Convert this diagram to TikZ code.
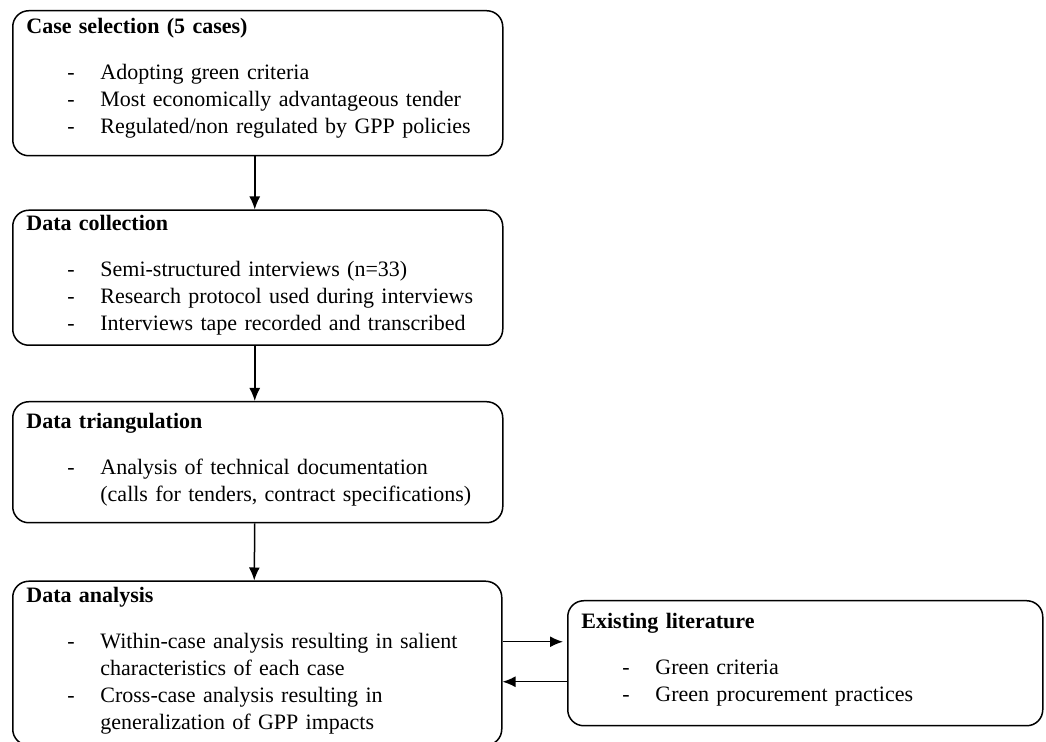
\documentclass[tikz,border=0pt]{standalone}
\usepackage{fontspec}
\setmainfont{Liberation Serif}
\usetikzlibrary{positioning,arrows.meta}
\tikzstyle{stage} = [draw, rectangle, rounded corners=8pt, line width=0.75pt,
    inner sep=0pt, anchor=north west]
\tikzstyle{stagetext} = [inner sep=0pt, align=left, text width=236pt,
    font=\fontsize{11}{13.5}\selectfont]
\tikzstyle{flow} = [line width=0.75pt, -{Latex[length=6.5pt,width=5.5pt]}]
\newcommand{\stagetitle}[1]{\textbf{#1}\\[9.5pt]}
\newcommand{\dashitem}[1]{\hspace*{20.5pt}\makebox[16.5pt][l]{-}#1}
\newcommand{\dashcont}[1]{\hspace*{37pt}#1}

\begin{document}
\begin{tikzpicture}[x=0.5pt,y=-0.5pt]
\useasboundingbox (0,0) rectangle (1046,742);

% the four stages, top to bottom
\node (casesel) [stage, minimum width=245pt, minimum height=72.5pt] at (12,10) {};
\node (datacoll) [stage, minimum width=245pt, minimum height=67.5pt,
    below right=26.5pt and 0pt of casesel.south west] {};
\node (datatri) [stage, minimum width=245pt, minimum height=60.5pt,
    below right=27.5pt and 0pt of datacoll.south west] {};
\node (dataana) [stage, minimum width=244.5pt, minimum height=82pt,
    below right=28.5pt and 0pt of datatri.south west] {};
\node (extlit) [stage, minimum width=237.5pt, minimum height=62.5pt] at (567,600) {};

\node (casesel_txt) [stagetext, below right=4pt and 7pt of casesel.north west] {%
  \stagetitle{Case selection (5 cases)}
  \dashitem{Adopting green criteria}\\
  \dashitem{Most economically advantageous tender}\\
  \dashitem{Regulated/non regulated by GPP policies}};

\node (datacoll_txt) [stagetext, below right=2.5pt and 7pt of datacoll.north west] {%
  \stagetitle{Data collection}
  \dashitem{Semi-structured interviews (n=33)}\\
  \dashitem{Research protocol used during interviews}\\
  \dashitem{Interviews tape recorded and transcribed}};

\node (datatri_txt) [stagetext, below right=6pt and 7pt of datatri.north west] {%
  \stagetitle{Data triangulation}
  \dashitem{Analysis of technical documentation}\\
  \dashcont{(calls for tenders, contract specifications)}};

\node (dataana_txt) [stagetext, below right=3pt and 7pt of dataana.north west] {%
  \stagetitle{Data analysis}
  \dashitem{Within-case analysis resulting in salient}\\
  \dashcont{characteristics of each case}\\
  \dashitem{Cross-case analysis resulting in}\\
  \dashcont{generalization of GPP impacts}};

\node (extlit_txt) [stagetext, below right=6.5pt and 7pt of extlit.north west] {%
  \stagetitle{Existing literature}
  \dashitem{Green criteria}\\
  \dashitem{Green procurement practices}};

% flow between stages
\draw[flow] ([xshift=-1.5pt]casesel.south) -- ([xshift=-1.5pt]datacoll.north);
\draw[flow] ([xshift=-1.5pt]datacoll.south) -- ([xshift=-1.5pt]datatri.north);
\draw[flow] ([xshift=-1.5pt]datatri.south) -- ([xshift=-1.5pt]dataana.north);

% two way link to the literature
\draw[flow, shorten >=2pt] ([yshift=10.75pt]extlit.west -| dataana.east) -- ([yshift=10.75pt]extlit.west);
\draw[flow] ([yshift=-9.25pt]extlit.west) -- ([yshift=-9.25pt]extlit.west -| dataana.east);

\end{tikzpicture}
\end{document}
